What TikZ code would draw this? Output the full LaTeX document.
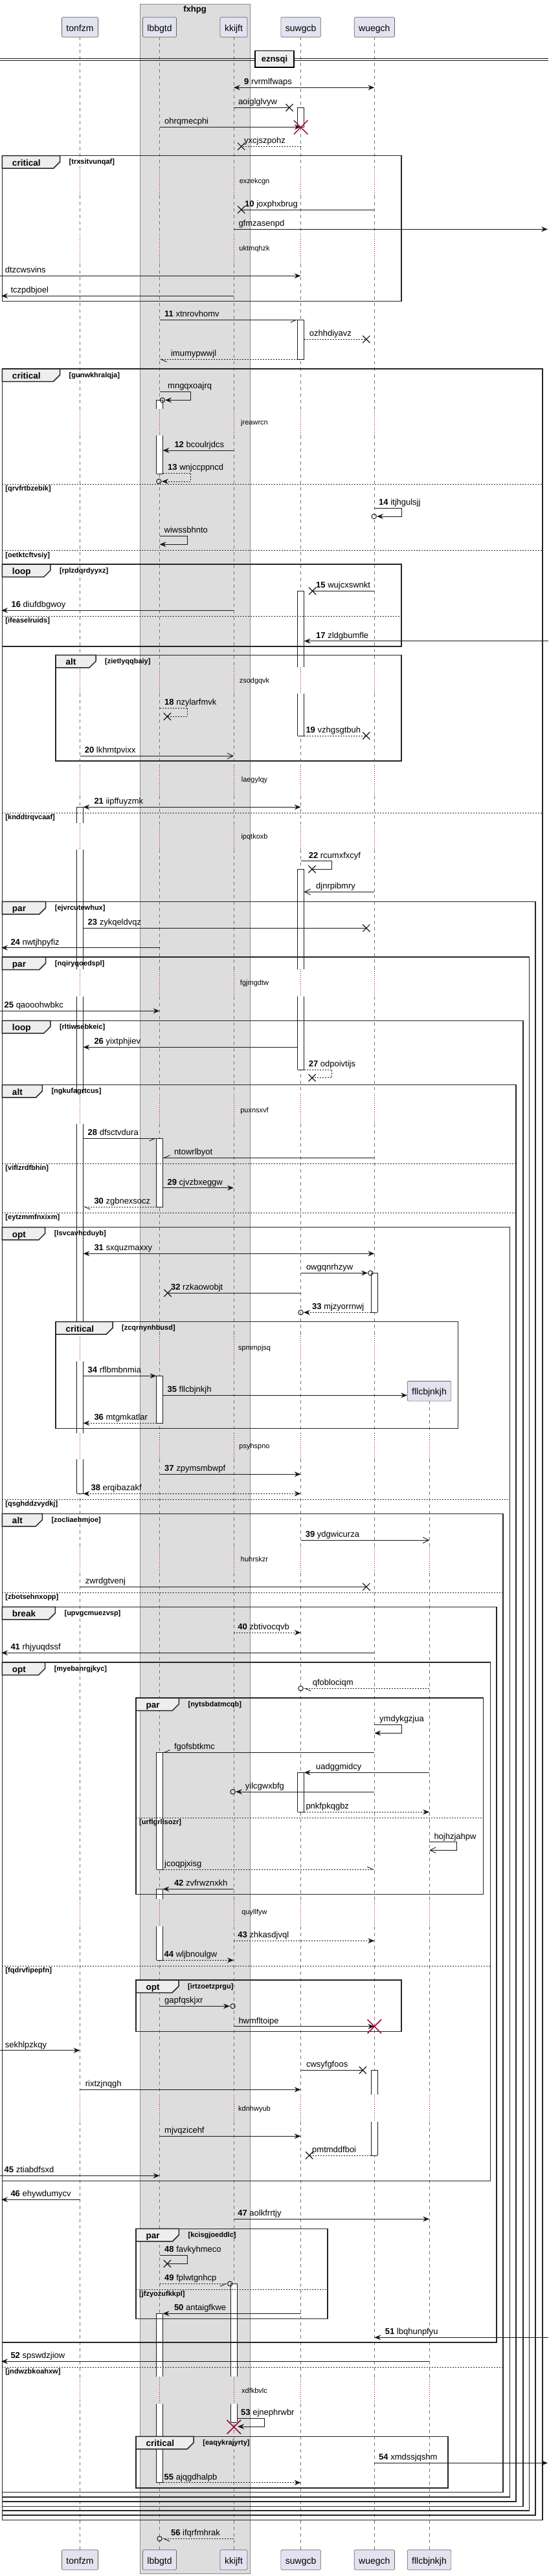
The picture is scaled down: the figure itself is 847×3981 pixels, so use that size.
\documentclass[tikz,border=0pt]{standalone}
\usepackage{fontspec}
\setmainfont{Liberation Sans}
\usetikzlibrary{arrows.meta, shapes.misc, positioning}

\definecolor{plred}{RGB}{168,0,54}
\definecolor{partfill}{RGB}{226,226,240}
\definecolor{boxgray}{RGB}{221,221,221}
\definecolor{tabgray}{RGB}{238,238,238}
\definecolor{inkc}{RGB}{24,24,24}

\tikzset{
  lifeline/.style={draw=black!55, line width=0.6pt, dash pattern=on 5pt off 5pt},
  delayline/.style={draw=plred, line width=0.8pt, dash pattern=on 1pt off 2pt},
  msgline/.style={draw=inkc, line width=0.9pt},
  dotmsg/.style={dash pattern=on 2pt off 2pt},
  tipfill/.style={-{Stealth[length=10pt,width=8pt,inset=3.5pt]}},
  tipboth/.style={{Stealth[length=10pt,width=8pt,inset=3.5pt]}-{Stealth[length=10pt,width=8pt,inset=3.5pt]}},
  tipopen/.style={-{Straight Barb[length=9pt,width=9pt]}},
  tiphl/.style={-{Straight Barb[left,length=9pt,width=8pt]}},
  tiphr/.style={-{Straight Barb[right,length=9pt,width=8pt]}},
  msglabel/.style={anchor=base west, inner sep=0pt, font=\fontsize{13}{15}\selectfont},
  delaytext/.style={inner sep=0pt, font=\fontsize{11}{13}\selectfont},
  actline/.style={draw=inkc, line width=0.9pt},
  lostx/.style={cross out, draw=inkc, line width=1.2pt, minimum size=10pt, inner sep=0pt},
  killx/.style={cross out, draw=plred, line width=1.5pt, minimum size=20pt, inner sep=0pt},
  endring/.style={circle, draw=inkc, line width=1pt, minimum size=7.4pt, inner sep=0pt},
  grpline/.style={draw=black!85, line width=1.5pt},
  sepline/.style={draw=black!85, line width=0.8pt, dash pattern=on 2pt off 2pt},
  tabtext/.style={anchor=base west, inner sep=0pt, font=\bfseries\fontsize{13.5}{15}\selectfont},
  guardtext/.style={anchor=base west, inner sep=0pt, font=\bfseries\fontsize{11}{13}\selectfont},
  partbox/.style={draw=black!60, fill=partfill, rounded corners=1.5pt, line width=0.7pt,
    minimum height=30.6pt, inner xsep=7pt, text height=12pt, text depth=0pt,
    font=\fontsize{14}{16}\selectfont},
  divbox/.style={draw=black, line width=1.5pt, fill=tabgray, minimum width=59.7pt,
    minimum height=25.7pt, inner sep=0pt, text height=9.5pt, text depth=0pt,
    font=\bfseries\fontsize{13}{15}\selectfont}
}

% lifeline x positions
\def\xT{123.5}
\def\xL{246.5}
\def\xK{361}
\def\xS{464.6}
\def\xW{578.3}
\def\xF{663.2}

\newcommand{\seqno}[1]{\textbf{#1} }

% message: [style]{name}{x1}{x2}{y}{label x}{label}
\newcommand{\seqmsg}[7][]{%
  \coordinate (#2-a) at (#3,#5);
  \coordinate (#2-b) at (#4,#5);
  \draw[msgline,#1] (#2-a) -- (#2-b);
  \node[msglabel] (#2-t) at (#6,#5-4.5) {#7};
}
% self message: [style]{name}{x start}{x turn}{y1}{x end}{y2}{label x}{label}
\newcommand{\seqself}[9][]{%
  \coordinate (#2-a) at (#3,#5);
  \coordinate (#2-r) at (#4,#7);
  \coordinate (#2-b) at (#6,#7);
  \draw[msgline,#1] (#2-a) -| (#2-r) -- (#2-b);
  \node[msglabel] (#2-t) at (#8,#5-4.5) {#9};
}
\newcommand{\lostmark}[1]{\node[lostx] (#1-x) at (#1-b) {};}
\newcommand{\ringmark}[3]{\node[endring] (#1-o) at (#2,#3) {};}
\newcommand{\killmark}[3]{\node[killx] (#1) at (#2,#3) {};}

% activation: {x}{y1}{y2}{top edge}{bottom edge}
\newcommand{\actbar}[5]{%
  \fill[white] (#1-5,#2) rectangle (#1+5,#3);
  \draw[actline] (#1-5,#2) -- (#1-5,#3) (#1+5,#2) -- (#1+5,#3);
  \ifnum#4=1 \draw[actline] (#1-5,#2) -- (#1+5,#2);\fi
  \ifnum#5=1 \draw[actline] (#1-5,#3) -- (#1+5,#3);\fi
}

% group: {name}{x1}{y1}{x2}{y2}{tab right}{kind}{guard}
\newcommand{\grpframe}[8]{%
  \draw[grpline] (#2,#3) rectangle (#4,#5);
  \draw[grpline, fill=tabgray] (#2,#3) -- (#6,#3) -- (#6,#3+9.5) -- (#6-10,#3+19.5) -- (#2,#3+19.5) -- cycle;
  \node[tabtext] (#1) at (#2+15.5,#3+15.5) {#7};
  \node[guardtext] (#1-g) at (#6+14,#3+13) {[#8]};
}
\newcommand{\elsesep}[5]{%
  \draw[sepline] (#2,#4) -- (#3,#4);
  \node[guardtext] (#1) at (#2+5,#4+10.5) {[#5]};
}

\begin{document}
\begin{tikzpicture}[x=1pt, y=-1pt]
\useasboundingbox (0,0) rectangle (847,3981);

% box round lbbgtd and kkijft
\draw[draw=black!45, fill=boxgray, line width=0.7pt] (216,6) rectangle (386.3,3977);
\node[anchor=base, inner sep=0pt, font=\bfseries\fontsize{13}{15}\selectfont] (fxhpg) at (301,18.3) {fxhpg};

% lifelines
\foreach \lx in {\xT,\xL,\xK,\xS,\xW}
  \foreach \ya/\yb in {57.3/258, 301.7/361, 408/632, 673/1030.7, 1071.7/1183, 1230/1271.7,
      1313.3/1498.3, 1540/1690, 1737/2062, 2104/2215, 2255/2389, 2431/2935,
      2976.7/3237.3, 3279/3673.3, 3715/3940.7}
    \draw[lifeline] (\lx,\ya) -- (\lx,\yb);
\foreach \ya/\yb in {2165.3/2215, 2255/2389, 2431/2935, 2976.7/3237.3, 3279/3673.3, 3715/3940.7}
  \draw[lifeline] (\xF,\ya) -- (\xF,\yb);

% delays
\foreach \ya/\yb/\yt/\dtxt [count=\i] in {258/301.7/281/exzekcgn, 361/408/384.3/uktmqhzk,
    632/673/653.3/jreawrcn, 1030.7/1071.7/1052.3/zsodgqvk, 1183/1230/1205.3/laegylqy,
    1271.7/1313.3/1293.3/ipqtkoxb, 1498.3/1540/1520/fgjmgdtw, 1690/1737/1716.7/puxnsxvf,
    2062/2104/2083.3/spmmpjsq, 2215/2255/2235.3/psyhspno, 2389/2431/2410/huhrskzr,
    2935/2976.7/2956/quyllfyw, 3237.3/3279/3259.3/kdnhwyub, 3673.3/3715/3695/xdfkbvlc} {
  \foreach \lx in {\xT,\xL,\xK,\xS,\xW}
    \draw[delayline] (\lx,\ya) -- (\lx,\yb);
  \node[delaytext] (delay-\i) at (393,\yt) {\dtxt};
}
\foreach \ya/\yb in {2215/2255, 2389/2431, 2935/2976.7, 3237.3/3279, 3673.3/3715}
  \draw[delayline] (\xF,\ya) -- (\xF,\yb);

% activations
\foreach \ax/\ya/\yb/\et/\eb in {\xS/166.3/196.7/1/1, \xS/494.3/555.3/1/1,
    \xL/618.3/632/1/0, \xL/673/732/0/1, \xS/913.3/1030.7/1/0, \xS/1071.7/1137/0/1,
    \xT/1247.3/1271.7/1/0, \xT/1313.3/1498.3/0/0, \xT/1540/1690/0/0, \xT/1737/2062/0/0,
    \xT/2104/2215/0/0, \xT/2255/2308.3/0/1, \xS/1343.3/1498.3/1/0, \xS/1540/1653.3/0/1,
    \xL/1759.3/1865/1/1, \xW/1967.3/2028.3/1/1, \xL/2126.3/2199.3/1/1,
    \xL/2708.3/2889/1/1, \xS/2739.3/2800.3/1/1, \xL/2919.3/2935/1/0, \xL/2976.7/3029.3/0/1,
    \xW/3199.3/3237.3/1/0, \xW/3279/3331/0/1, \xK/3529.3/3673.3/1/0, \xK/3715/3743.3/0/1,
    \xL/3575.3/3673.3/1/0, \xL/3715/3836.7/0/1}
  \actbar{\ax}{\ya}{\yb}{\et}{\eb};

% groups
\grpframe{grp1}{3.3}{240.7}{620.2}{465.3}{92.5}{critical}{trxsitvunqaf}
\grpframe{grp2}{3.3}{570}{837.9}{3894.3}{92.5}{critical}{gunwkhralqja}
\elsesep{sep1}{3.3}{837.9}{748.3}{qrvfrtbzebik}
\elsesep{sep2}{3.3}{837.9}{850.7}{oetktcftvsiy}
\elsesep{sep3}{3.3}{837.9}{1256.3}{knddtrqvcaaf}
\grpframe{grp3}{3.3}{872}{620.2}{999}{77.8}{loop}{rplzdqrdyyxz}
\elsesep{sep4}{3.3}{620.2}{952.3}{ifeaselruids}
\grpframe{grp4}{86}{1012.3}{620.2}{1176}{148}{alt}{zietlyqqbaiy}
\grpframe{grp5}{3.3}{1393.3}{827}{3886.7}{70.7}{par}{ejvrcutewhux}
\grpframe{grp6}{3.3}{1479}{817.7}{3880}{70.7}{par}{nqiryqoedspl}
\grpframe{grp7}{3.3}{1577.3}{808}{3873.3}{77.8}{loop}{rltiwsebkeic}
\grpframe{grp8}{3.3}{1676.7}{797}{3866}{65.3}{alt}{ngkufagrtcus}
\elsesep{sep5}{3.3}{797}{1798.3}{viflzrdfbhin}
\elsesep{sep6}{3.3}{797}{1874.3}{eytzmmfnxixm}
\grpframe{grp9}{3.3}{1896.7}{787.3}{3859}{69.6}{opt}{lsvcavhcduyb}
\grpframe{grp10}{86}{2042.7}{707.3}{2207.7}{174}{critical}{zcqrnynhbusd}
\elsesep{sep7}{3.3}{787.3}{2317.3}{qsghddzvydkj}
\grpframe{grp11}{3.3}{2339.3}{777}{3851.7}{65.3}{alt}{zocliaebmjoe}
\elsesep{sep8}{3.3}{777}{2461}{zbotsehnxopp}
\grpframe{grp12}{3.3}{2483.3}{767}{3620}{85.4}{break}{upvgcmuezvsp}
\grpframe{grp13}{3.3}{2569}{757.3}{3370.3}{69.6}{opt}{myebanrgjkyc}
\grpframe{grp14}{210}{2624}{746.5}{2927.3}{276.4}{par}{nytsbdatmcqb}
\elsesep{sep9}{210}{746.5}{2809.3}{urflgrllsozr}
\elsesep{sep10}{3.3}{757.3}{3038.3}{fqdrvfipepfn}
\grpframe{grp15}{210}{3060}{620.2}{3139.3}{276}{opt}{irtzoetzprgu}
\grpframe{grp16}{210}{3444.3}{506}{3583.3}{276.4}{par}{kcisgjoeddlc}
\elsesep{sep11}{210}{506}{3538.3}{jfzyozufkkpl}
\elsesep{sep12}{3.3}{777}{3658.3}{jndwzbkoahxw}
\grpframe{grp17}{210}{3765.3}{692}{3845}{299.2}{critical}{eaqykrajyrty}

% divider
\draw[draw=inkc, line width=0.8pt] (0,90) -- (847,90) (0,93) -- (847,93);
\node[divbox] (eznsqi) at (424,91.2) {eznsqi};

% messages
\seqmsg[tipboth]{m9}{\xK}{\xW}{135.3}{377}{\seqno{9}rvrmlfwaps}
\seqmsg{aoig}{\xK}{447}{166.3}{367.8}{aoiglglvyw} \lostmark{aoig}
\seqmsg[tipfill]{ohrq}{\xL}{\xS}{196.3}{254}{ohrqmecphi}
\seqmsg[dotmsg]{yxcj}{\xS}{372.7}{226.3}{377}{yxcjszpohz} \lostmark{yxcj}
\seqmsg{m10}{\xW}{372.7}{324}{378}{\seqno{10}joxphxbrug} \lostmark{m10}
\seqmsg[tipfill]{gfmz}{\xK}{846}{354.3}{368.3}{gfmzasenpd}
\seqmsg[tipfill]{dtzc}{0}{\xS}{426.3}{7.6}{dtzcwsvins}
\seqmsg[tipfill]{tczp}{\xK}{2}{457.3}{16.3}{tczpdbjoel}
\seqmsg[tiphr]{m11}{\xL}{459.6}{494.3}{254}{\seqno{11}xtnrovhomv}
\seqmsg[dotmsg]{ozhh}{469.6}{565.8}{524.3}{477.7}{ozhhdiyavz} \lostmark{ozhh}
\seqmsg[dotmsg,tiphl]{imum}{459.6}{\xL}{555.3}{263.9}{imumypwwjl}
\seqself[tipfill]{mngq}{\xL}{294.3}{605.3}{255}{618.3}{259}{mngqxoajrq} \ringmark{mngq}{250.8}{618.3}
\seqmsg[tipfill]{m12}{\xK}{251.5}{696}{269.3}{\seqno{12}bcoulrjdcs}
\seqself[dotmsg,tipfill]{m13}{251.5}{294.3}{731}{250}{744}{259}{\seqno{13}wnjccppncd} \ringmark{m13}{245.4}{744}
\seqself[tipfill]{m14}{\xW}{620.2}{785.3}{582}{798}{585}{\seqno{14}itjhgulsjj} \ringmark{m14}{577.8}{798}
\seqself[tipfill]{wiws}{\xL}{289.4}{828.3}{\xL}{841.3}{253.5}{wiwssbhnto}
\seqmsg{m15}{\xW}{482.6}{913.3}{488}{\seqno{15}wujcxswnkt} \lostmark{m15}
\seqmsg[tipfill]{m16}{\xK}{2}{943.3}{17.4}{\seqno{16}diufdbgwoy}
\seqmsg[tipfill]{m17}{847}{469.6}{990.7}{488}{\seqno{17}zldgbumfle}
\seqself[dotmsg]{m18}{\xL}{289.4}{1094.3}{258.4}{1107.3}{254}{\seqno{18}nzylarfmvk} \lostmark{m18}
\seqmsg[dotmsg]{m19}{469.6}{565.8}{1137}{472.3}{\seqno{19}vzhgsgtbuh} \lostmark{m19}
\seqmsg[tipopen]{m20}{\xT}{\xK}{1168.3}{130.6}{\seqno{20}lkhmtpvixx}
\seqmsg[tipboth]{m21}{128.5}{\xS}{1247.3}{145.3}{\seqno{21}iipffuyzmk}
\seqself{m22}{\xS}{512.5}{1330.7}{482}{1343.3}{476.6}{\seqno{22}rcumxfxcyf} \lostmark{m22}
\seqmsg[tipopen]{djnr}{\xW}{469.6}{1378.3}{488}{djnrpibmry}
\seqmsg{m23}{128.5}{565.8}{1434.3}{135.5}{\seqno{23}zykqeldvqz} \lostmark{m23}
\seqmsg[tipfill]{m24}{\xL}{2}{1464.7}{16.3}{\seqno{24}nwtjhpyfiz}
\seqmsg[tipfill]{m25}{0}{\xL}{1562.3}{6.5}{\seqno{25}qaooohwbkc}
\seqmsg[tipfill]{m26}{459.6}{128.5}{1618.3}{145.3}{\seqno{26}yixtphjiev}
\seqself[dotmsg]{m27}{469.6}{512.5}{1653.3}{482}{1665.7}{476.6}{\seqno{27}odpoivtijs} \lostmark{m27}
\seqmsg[tiphr]{m28}{128.5}{241.5}{1759.3}{135.5}{\seqno{28}dfsctvdura}
\seqmsg[tiphr]{ntow}{\xW}{251.5}{1789.3}{268.8}{ntowrlbyot}
\seqmsg[tipfill]{m29}{251.5}{\xK}{1835.7}{258.4}{\seqno{29}cjvzbxeggw}
\seqmsg[dotmsg,tiphl]{m30}{241.5}{128.5}{1865}{145.3}{\seqno{30}zgbnexsocz}
\seqmsg[tipboth]{m31}{128.5}{\xW}{1937.3}{145.3}{\seqno{31}sxquzmaxxy}
\seqmsg[tipfill]{owgq}{\xS}{568}{1967.3}{472.8}{owgqnrhzyw} \ringmark{owgq}{572.4}{1967.3}
\seqmsg{m32}{\xS}{259}{1998.3}{263.9}{\seqno{32}rzkaowobjt} \lostmark{m32}
\seqmsg[dotmsg,tipfill]{m33}{573.3}{469}{2028.3}{482}{\seqno{33}mjzyorrnwj} \ringmark{m33}{\xS}{2028.3}
\seqmsg[tipfill]{m34}{128.5}{241.5}{2126.3}{135.5}{\seqno{34}rflbmbnmia}
\seqmsg[tipfill]{m35}{251.5}{629}{2156.3}{258.4}{\seqno{35}fllcbjnkjh}
\seqmsg[dotmsg,tipfill]{m36}{241.5}{128.5}{2199.3}{145.3}{\seqno{36}mtgmkatlar}
\seqmsg[tipfill]{m37}{\xL}{\xS}{2278.3}{254}{\seqno{37}zpymsmbwpf}
\seqmsg[dotmsg,tipboth]{m38}{128.5}{\xS}{2308.3}{140.4}{\seqno{38}erqibazakf}
\seqmsg[tipopen]{m39}{\xS}{\xF}{2380.3}{471.7}{\seqno{39}ydgwicurza}
\seqmsg{zwrd}{\xT}{565.8}{2452.3}{131.7}{zwrdgtvenj} \lostmark{zwrd}
\seqmsg[dotmsg,tipfill]{m40}{\xK}{\xS}{2523}{367.2}{\seqno{40}zbtivocqvb}
\seqmsg[tipfill]{m41}{\xW}{2}{2554.3}{16.3}{\seqno{41}rhjyuqdssf}
\seqmsg[dotmsg,tiphl]{qfob}{\xF}{469}{2609.3}{482.6}{qfoblociqm} \ringmark{qfob}{\xS}{2609.3}
\seqself[tipfill]{ymdy}{\xW}{620.2}{2665.3}{\xW}{2678.3}{586}{ymdykgzjua}
\seqmsg[tiphr]{fgof}{\xW}{251.5}{2708.3}{268.8}{fgofsbtkmc}
\seqmsg[tipfill]{uadg}{\xF}{469.6}{2739.3}{488}{uadggmidcy}
\seqmsg[tipfill]{yilc}{\xW}{364}{2769}{378.7}{yilcgwxbfg} \ringmark{yilc}{359.6}{2769}
\seqmsg[dotmsg,tipfill]{pnkf}{469.6}{\xF}{2800.3}{472.3}{pnkfpkqgbz}
\seqself[tipopen]{hojh}{\xF}{705.7}{2846.7}{\xF}{2859.3}{670.3}{hojhzjahpw}
\seqmsg[dotmsg,tiphl]{jcoq}{251.5}{\xW}{2889}{254}{jcoqpjxisg}
\seqmsg[tipfill]{m42}{\xK}{251.5}{2919.3}{268.8}{\seqno{42}zvfrwznxkh}
\seqmsg[dotmsg,tipfill]{m43}{\xK}{\xW}{2999.3}{367.2}{\seqno{43}zhkasdjvql}
\seqmsg[dotmsg,tipfill]{m44}{251.5}{\xK}{3029.3}{253.5}{\seqno{44}wljbnoulgw}
\seqmsg[tipfill]{gapf}{\xL}{355}{3100.3}{254}{gapfqskjxr} \ringmark{gapf}{359.6}{3100.3}
\seqmsg[tipfill]{hwmf}{\xK}{\xW}{3131.7}{368.3}{hwmfltoipe}
\seqmsg[tipfill]{sekh}{0}{\xT}{3168.7}{7.6}{sekhlpzkqy}
\seqmsg{cwsy}{\xS}{560.4}{3199.3}{472.8}{cwsyfgfoos} \lostmark{cwsy}
\seqmsg[tipfill]{rixt}{\xT}{\xS}{3229.3}{131.7}{rixtzjnqgh}
\seqmsg[tipfill]{mjvq}{\xL}{\xS}{3301.3}{254}{mjvqzicehf}
\seqmsg[dotmsg]{pmtm}{573.3}{477.7}{3331}{482}{pmtmddfboi} \lostmark{pmtm}
\seqmsg[tipfill]{m45}{0}{\xL}{3362.3}{6.5}{\seqno{45}ztiabdfsxd}
\seqmsg[tipfill]{m46}{\xT}{2}{3399.3}{16.3}{\seqno{46}ehywdumycv}
\seqmsg[tipfill]{m47}{\xK}{\xF}{3429.3}{367.2}{\seqno{47}aolkfrrtjy}
\seqself{m48}{\xL}{289.4}{3485.3}{258.4}{3498.3}{254}{\seqno{48}favkyhmeco} \lostmark{m48}
\seqmsg[dotmsg,tiphr]{m49}{\xL}{351}{3529.3}{254}{\seqno{49}fplwtgnhcp} \ringmark{m49}{355.3}{3529.3}
\seqmsg[tipfill]{m50}{\xS}{251.5}{3575.3}{268.8}{\seqno{50}antaigfkwe}
\seqmsg[tipfill]{m51}{847}{\xW}{3612.3}{594.7}{\seqno{51}lbqhunpfyu}
\seqmsg[tipfill]{m52}{\xF}{2}{3649.3}{16.3}{\seqno{52}spswdzjiow}
\seqself[tipfill]{m53}{366.2}{408}{3737.3}{367}{3750}{372}{\seqno{53}ejnephrwbr}
\seqmsg[tipfill]{m54}{\xW}{846}{3806.3}{585}{\seqno{54}xmdssjqshm}
\seqmsg[dotmsg,tipfill]{m55}{251.5}{\xS}{3836.7}{253.5}{\seqno{55}ajqgdhalpb}
\seqmsg[dotmsg,tiphl]{m56}{\xK}{251}{3923.3}{263.9}{\seqno{56}ifqrfmhrak} \ringmark{m56}{\xL}{3923.3}

% destroyed lifelines
\killmark{kill-a}{\xS}{196.7}
\killmark{kill-b}{\xW}{3131.7}
\killmark{kill-c}{361.3}{3750.7}

% participants
\foreach \pn/\px in {tonfzm/\xT, lbbgtd/\xL, kkijft/\xK, suwgcb/\xS, wuegch/\xW} {
  \node[partbox] (top-\pn) at (\px,42) {\pn};
  \node[partbox] (bot-\pn) at (\px,3956) {\pn};
}
\node[partbox] (top-fllcbjnkjh) at (663,2149.8) {fllcbjnkjh};
\node[partbox] (bot-fllcbjnkjh) at (663,3956) {fllcbjnkjh};

\end{tikzpicture}
\end{document}
